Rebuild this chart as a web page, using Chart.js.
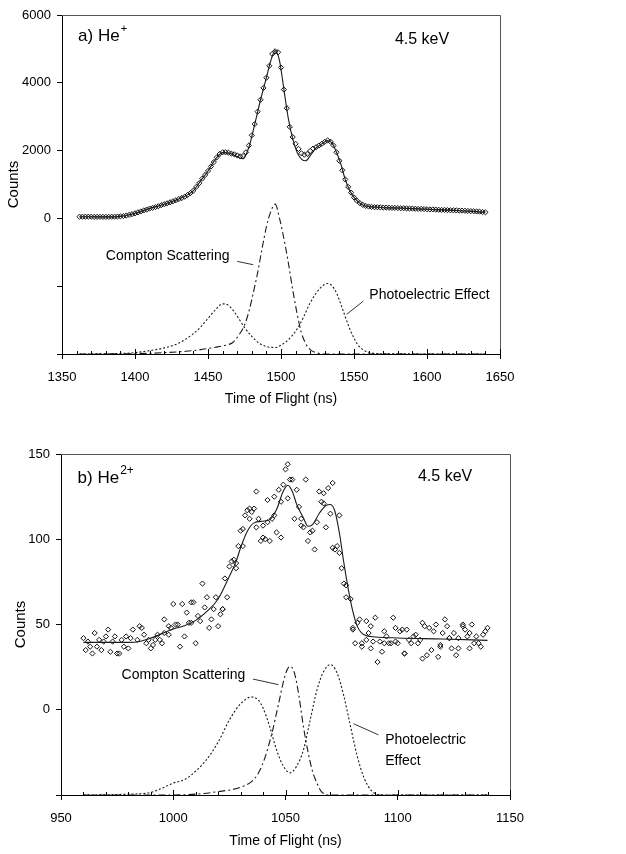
<!DOCTYPE html>
<html>
<head>
<meta charset="utf-8">
<script src="https://cdn.jsdelivr.net/npm/chart.js@4.4.1/dist/chart.umd.min.js"></script>
<style>
    html, body { margin: 0; padding: 0; background: #fff; }
    #panelA { position: absolute; left: 0; top: 0; width: 626px; height: 420px; }
    #panelB { position: absolute; left: 0; top: 420px; width: 626px; height: 434px; }
</style>
</head>
<body>
<div id="panelA"><canvas id="chartA" width="626" height="420"></canvas></div>
<div id="panelB"><canvas id="chartB" width="626" height="434"></canvas></div>
<script>
// ---- panel a) He+ : measured counts (diamonds)
const tofA = [
    1362, 1364, 1366, 1368, 1370, 1372, 1374, 1376, 1378, 1380,
    1382, 1384, 1386, 1388, 1390, 1392, 1394, 1396, 1398, 1400,
    1402, 1404, 1406, 1408, 1410, 1412, 1414, 1416, 1418, 1420,
    1422, 1424, 1426, 1428, 1430, 1432, 1434, 1436, 1438, 1440,
    1442, 1444, 1446, 1448, 1450, 1452, 1454, 1456, 1458, 1460,
    1462, 1464, 1466, 1468, 1470, 1472, 1474, 1476, 1478, 1480,
    1482, 1484, 1486, 1488, 1490, 1492, 1494, 1496, 1498, 1500,
    1502, 1504, 1506, 1508, 1510, 1512, 1514, 1516, 1518, 1520,
    1522, 1524, 1526, 1528, 1530, 1532, 1534, 1536, 1538, 1540,
    1542, 1544, 1546, 1548, 1550, 1552, 1554, 1556, 1558, 1560,
    1562, 1564, 1566, 1568, 1570, 1572, 1574, 1576, 1578, 1580,
    1582, 1584, 1586, 1588, 1590, 1592, 1594, 1596, 1598, 1600,
    1602, 1604, 1606, 1608, 1610, 1612, 1614, 1616, 1618, 1620,
    1622, 1624, 1626, 1628, 1630, 1632, 1634, 1636, 1638, 1640
];
const countsA = [
    50, 50, 50, 50, 50, 45, 45, 45, 45, 45,
    45, 50, 50, 55, 60, 70, 85, 105, 125, 150,
    180, 205, 235, 260, 290, 310, 335, 360, 390, 420,
    445, 475, 505, 535, 570, 600, 640, 690, 750, 820,
    930, 1040, 1170, 1280, 1400, 1530, 1660, 1800, 1900, 1950,
    1950, 1940, 1910, 1890, 1860, 1830, 1840, 1950, 2150, 2450,
    2780, 3150, 3500, 3850, 4150, 4500, 4850, 4930, 4900, 4450,
    3800, 3250, 2700, 2400, 2200, 2050, 1920, 1880, 1900, 1990,
    2060, 2100, 2150, 2200, 2260, 2300, 2260, 2150, 1950, 1700,
    1420, 1150, 930, 760, 620, 520, 450, 400, 370, 350,
    340, 330, 330, 325, 320, 320, 315, 310, 310, 305,
    300, 300, 295, 290, 290, 285, 280, 280, 275, 270,
    265, 265, 260, 255, 250, 250, 245, 240, 240, 235,
    230, 230, 225, 220, 215, 210, 205, 200, 190, 180
];
// fit (solid line)
const fitTofA = [
    1362, 1380, 1390, 1400, 1410, 1420, 1430, 1440, 1445, 1450,
    1455, 1460, 1465, 1470, 1474, 1478, 1482, 1486, 1490, 1493,
    1496, 1499, 1502, 1505, 1508, 1511, 1514, 1517, 1520, 1524,
    1528, 1532, 1535, 1538, 1541, 1544, 1547, 1550, 1555, 1560,
    1580, 1600, 1620, 1640
];
const fitCountsA = [
    50, 45, 60, 150, 290, 420, 570, 820, 1110, 1400,
    1740, 1940, 1920, 1820, 1760, 2100, 2780, 3500, 4150, 4650,
    4950, 4650, 3800, 2950, 2350, 1950, 1750, 1700, 1850, 2080,
    2200, 2300, 2220, 1950, 1600, 1150, 830, 620, 420, 350,
    305, 270, 235, 180
];
// Compton scattering component (dash-dot), drawn on offset baseline
const comptonTofA = [
    1362, 1400, 1420, 1440, 1455, 1462, 1467, 1471, 1475, 1478,
    1481, 1484, 1487, 1490, 1493, 1496, 1499, 1502, 1505, 1508,
    1511, 1514, 1517, 1520, 1524, 1530, 1640
];
const comptonA = [
    -4000, -3990, -3960, -3900, -3800, -3740, -3660, -3450, -3150, -2750,
    -2200, -1600, -900, -250, 200, 420, 0, -600, -1300, -2100,
    -2800, -3380, -3700, -3870, -3960, -4000, -4000
];
// photoelectric component (dotted)
const photoTofA = [
    1362, 1390, 1400, 1410, 1420, 1430, 1440, 1445, 1450, 1455,
    1460, 1463, 1467, 1471, 1475, 1480, 1485, 1490, 1496, 1500,
    1505, 1510, 1515, 1520, 1525, 1529, 1532, 1535, 1538, 1541,
    1544, 1547, 1550, 1553, 1556, 1560, 1570, 1640
];
const photoA = [
    -4000, -3985, -3960, -3900, -3820, -3680, -3400, -3200, -2950, -2700,
    -2520, -2540, -2700, -2950, -3220, -3480, -3680, -3780, -3810, -3740,
    -3580, -3330, -2950, -2490, -2150, -1970, -1920, -1990, -2200, -2530,
    -2900, -3250, -3530, -3750, -3870, -3950, -3995, -4000
];

// ---- panel b) He2+
const tofB = [
    960, 961, 962, 963, 964, 965, 966, 967, 968, 969,
    970, 971, 972, 973, 974, 975, 976, 977, 978, 979,
    980, 981, 982, 984, 985, 986, 987, 988, 989, 990,
    991, 992, 993, 994, 995, 996, 996, 998, 998, 999,
    1000, 1001, 1002, 1003, 1004, 1005, 1006, 1007, 1008, 1008,
    1009, 1010, 1011, 1012, 1013, 1014, 1015, 1016, 1017, 1018,
    1019, 1020, 1021, 1022, 1022, 1023, 1024, 1025, 1026, 1027,
    1028, 1028, 1029, 1030, 1031, 1031, 1032, 1033, 1034, 1034,
    1035, 1036, 1037, 1037, 1038, 1039, 1040, 1040, 1041, 1042,
    1042, 1043, 1044, 1045, 1045, 1046, 1047, 1048, 1048, 1049,
    1050, 1051, 1051, 1052, 1053, 1054, 1055, 1056, 1057, 1057,
    1058, 1059, 1060, 1061, 1062, 1063, 1064, 1065, 1066, 1067,
    1067, 1068, 1069, 1070, 1071, 1071, 1072, 1073, 1074, 1074,
    1075, 1076, 1077, 1077, 1079, 1080, 1080, 1081, 1082, 1083,
    1084, 1084, 1086, 1086, 1087, 1088, 1088, 1089, 1090, 1091,
    1092, 1093, 1094, 1094, 1095, 1096, 1097, 1098, 1099, 1099,
    1100, 1101, 1102, 1103, 1103, 1104, 1105, 1106, 1107, 1108,
    1109, 1110, 1111, 1111, 1112, 1113, 1114, 1115, 1116, 1117,
    1118, 1119, 1119, 1120, 1121, 1122, 1123, 1123, 1124, 1125,
    1126, 1127, 1127, 1129, 1129, 1130, 1131, 1132, 1132, 1133,
    1134, 1135, 1136, 1137, 1138, 1139, 1140
];
const countsB = [
    42, 35, 40, 37, 33, 45, 37, 41, 35, 40,
    43, 47, 34, 40, 43, 33, 33, 41, 37, 43,
    36, 42, 47, 41, 49, 48, 44, 39, 41, 36,
    38, 41, 44, 41, 39, 45, 53, 49, 44, 48,
    62, 50, 50, 37, 62, 43, 57, 51, 63, 51,
    63, 39, 55, 52, 74, 60, 66, 48, 53, 59,
    66, 49, 56, 59, 59, 77, 66, 84, 87, 88,
    86, 83, 96, 105, 96, 106, 114, 117, 112, 118,
    116, 118, 107, 128, 112, 99, 101, 108, 100, 123,
    110, 99, 112, 114, 125, 104, 129, 122, 101, 132,
    141, 124, 144, 135, 135, 112, 129, 119, 108, 112,
    107, 135, 99, 104, 105, 94, 110, 128, 122, 127,
    121, 107, 130, 115, 133, 95, 94, 96, 114, 92,
    83, 74, 73, 66, 65, 48, 47, 39, 51, 53,
    37, 39, 41, 52, 45, 49, 36, 40, 54, 28,
    40, 34, 39, 46, 43, 39, 39, 54, 48, 40,
    39, 46, 47, 33, 33, 47, 41, 39, 43, 44,
    39, 41, 51, 30, 49, 32, 48, 35, 46, 50,
    31, 37, 38, 45, 53, 49, 42, 42, 36, 45,
    32, 42, 36, 50, 49, 47, 43, 45, 36, 50,
    39, 43, 39, 37, 44, 46, 48
];
const fitTofB = [
    960, 980, 985, 990, 1000, 1005, 1010, 1015, 1020, 1025,
    1028, 1030, 1033, 1036, 1040, 1043, 1046, 1049, 1051, 1053,
    1055, 1058, 1060, 1062, 1065, 1068, 1070, 1072, 1074, 1076,
    1078, 1080, 1082, 1085, 1090, 1100, 1120, 1140
];
const fitCountsB = [
    39.5, 39.5, 40, 42, 47.4, 49.3, 52.4, 57.7, 65, 78.3,
    87, 95, 104.7, 109.6, 110.6, 111.5, 117.4, 128.2, 131.7, 128.2,
    120.4, 112.5, 107.6, 108.6, 115.1, 119.8, 120.4, 116.4, 103.7, 86.1,
    70.5, 57.7, 48.9, 44, 42.7, 42.1, 41.5, 40.7
];
const comptonTofB = [
    960, 1000, 1010, 1020, 1030, 1035, 1038, 1041, 1044, 1047,
    1050, 1052, 1054, 1056, 1058, 1060, 1062, 1064, 1066, 1070,
    1140
];
const comptonB = [
    -50, -50, -49.5, -48, -45.5, -42, -37, -27.5, -13.5, 4,
    21, 25.5, 21.5, 8, -10, -24.5, -36, -43, -48, -50,
    -50
];
const photoTofB = [
    960, 980, 990, 995, 1000, 1005, 1010, 1015, 1020, 1025,
    1030, 1035, 1038, 1040, 1043, 1046, 1049, 1052, 1055, 1058,
    1061, 1064, 1067, 1070, 1073, 1076, 1079, 1082, 1085, 1088,
    1092, 1140
];
const photoB = [
    -50, -49.5, -48.5, -46, -43, -41, -36, -29, -19, -6,
    3.5, 7.5, 5.5, 1, -10, -23.5, -33, -37, -33, -23.5,
    -6, 11.5, 22.5, 26.5, 21.5, 8, -10, -27.5, -40, -47,
    -50, -50
];

const FONT = "'Liberation Sans', Arial, sans-serif";

function pts(xs, ys) {
    return xs.map((x, i) => ({ x: x, y: ys[i] }));
}

function curve(xs, ys, dash) {
    return {
        data: pts(xs, ys),
        showLine: true,
        pointRadius: 0,
        borderColor: "#1a1a1a",
        borderWidth: 1.1,
        borderDash: dash,
        cubicInterpolationMode: "monotone",
        fill: false
    };
}

function marks(xs, ys) {
    return {
        data: pts(xs, ys),
        showLine: false,
        pointStyle: "rectRot",
        pointRadius: 2.6,
        pointBorderWidth: 1,
        pointBorderColor: "#111",
        pointBackgroundColor: "rgba(255,255,255,0)"
    };
}

// frame, inner tick marks, labels and leader lines
const decor = {
    id: "decor",
    afterDraw(chart, args, opts) {
        const ctx = chart.ctx;
        const a = chart.chartArea;
        const xs = chart.scales.x;
        const ys = chart.scales.y;
        ctx.save();
        ctx.lineWidth = 1;
        ctx.strokeStyle = "#555";
        ctx.beginPath();
        ctx.moveTo(a.left, a.top + 0.5);
        ctx.lineTo(a.right + 0.5, a.top + 0.5);
        ctx.lineTo(a.right + 0.5, a.bottom);
        ctx.stroke();

        ctx.strokeStyle = "#000";
        ctx.beginPath();
        for (let v = xs.min; v <= xs.max; v += 10) {
            const px = Math.round(xs.getPixelForValue(v)) + 0.5;
            const len = (v - xs.min) % 50 === 0 ? 5 : 3;
            ctx.moveTo(px, a.bottom);
            ctx.lineTo(px, a.bottom - len);
        }
        ctx.stroke();

        ctx.strokeStyle = "#333";
        ctx.beginPath();
        (opts.leaders || []).forEach((l) => {
            ctx.moveTo(xs.getPixelForValue(l[0]), ys.getPixelForValue(l[1]));
            ctx.lineTo(xs.getPixelForValue(l[2]), ys.getPixelForValue(l[3]));
        });
        ctx.stroke();

        ctx.fillStyle = "#000";
        ctx.textBaseline = "middle";
        ctx.textAlign = "left";
        (opts.notes || []).forEach((n) => {
            const px = xs.getPixelForValue(n.x);
            const py = ys.getPixelForValue(n.y);
            ctx.font = n.size + "px " + FONT;
            ctx.fillText(n.text, px, py);
            if (n.sup) {
                const w = ctx.measureText(n.text).width;
                ctx.font = n.supSize + "px " + FONT;
                ctx.fillText(n.sup, px + w + 1, py - n.size * 0.45);
            }
        });
        ctx.restore();
    }
};

function buildChart(id, p) {
    return new Chart(document.getElementById(id), {
        type: "scatter",
        data: {
            datasets: [
                curve(p.photoX, p.photoY, [2, 2]),
                curve(p.comptonX, p.comptonY, [7, 3, 2, 3]),
                curve(p.fitX, p.fitY, []),
                marks(p.tofX, p.countsY)
            ]
        },
        options: {
            responsive: false,
            animation: false,
            layout: { padding: p.pad },
            plugins: {
                legend: { display: false },
                tooltip: { enabled: false },
                decor: { notes: p.notes, leaders: p.leaders }
            },
            scales: {
                x: {
                    type: "linear",
                    min: p.xMin,
                    max: p.xMax,
                    afterFit: (s) => { s.height = p.xHeight; },
                    ticks: {
                        stepSize: 50,
                        padding: 11,
                        color: "#000",
                        autoSkip: false,
                        maxRotation: 0,
                        font: { family: FONT, size: 13 },
                        callback: (v) => String(v)
                    },
                    grid: { drawOnChartArea: false, tickLength: 5, color: "#000" },
                    border: { color: "#000", width: 1 },
                    title: {
                        display: true,
                        text: "Time of Flight (ns)",
                        color: "#000",
                        padding: 0,
                        font: { family: FONT, size: 14 }
                    }
                },
                y: {
                    type: "linear",
                    min: p.yMin,
                    max: p.yMax,
                    afterFit: (s) => { s.width = p.yWidth; },
                    ticks: {
                        stepSize: p.yStep,
                        padding: 6,
                        color: "#000",
                        font: { family: FONT, size: 13 },
                        callback: (v) => (v < 0 ? "" : String(v))
                    },
                    grid: { drawOnChartArea: false, tickLength: 5, color: "#000" },
                    border: { color: "#000", width: 1 },
                    title: {
                        display: true,
                        text: "Counts",
                        color: "#000",
                        padding: { top: p.yTitlePad, bottom: 0 },
                        font: { family: FONT, size: 15 }
                    }
                }
            }
        },
        plugins: [decor]
    });
}

buildChart("chartA", {
    tofX: tofA, countsY: countsA,
    fitX: fitTofA, fitY: fitCountsA,
    comptonX: comptonTofA, comptonY: comptonA,
    photoX: photoTofA, photoY: photoA,
    xMin: 1350, xMax: 1650,
    yMin: -4000, yMax: 6000, yStep: 2000,
    pad: { left: 0, top: 15, right: 126, bottom: 12 },
    xHeight: 54, yWidth: 62, yTitlePad: 5,
    notes: [
        { x: 1361, y: 5370, text: "a) He", size: 17, sup: "+", supSize: 11 },
        { x: 1578, y: 5270, text: "4.5 keV", size: 16 },
        { x: 1380, y: -1100, text: "Compton Scattering", size: 14 },
        { x: 1560.5, y: -2270, text: "Photoelectric Effect", size: 14 }
    ],
    leaders: [
        [1470, -1268, 1481, -1366],
        [1545, -2829, 1556.4, -2439]
    ]
});

buildChart("chartB", {
    tofX: tofB, countsY: countsB,
    fitX: fitTofB, fitY: fitCountsB,
    comptonX: comptonTofB, comptonY: comptonB,
    photoX: photoTofB, photoY: photoB,
    xMin: 950, xMax: 1150,
    yMin: -50, yMax: 150, yStep: 50,
    pad: { left: 0, top: 34, right: 116, bottom: 4 },
    xHeight: 55, yWidth: 61, yTitlePad: 12,
    notes: [
        { x: 957.4, y: 136, text: "b) He", size: 17, sup: "2+", supSize: 12 },
        { x: 1109, y: 137, text: "4.5 keV", size: 16 },
        { x: 977, y: 20.5, text: "Compton Scattering", size: 14 },
        { x: 1094.4, y: -18, text: "Photoelectric", size: 14 },
        { x: 1094.4, y: -30.3, text: "Effect", size: 14 }
    ],
    leaders: [
        [1035.5, 18, 1046.9, 14.7],
        [1080.3, -8.2, 1091.4, -14.7]
    ]
});
</script>
</body>
</html>
